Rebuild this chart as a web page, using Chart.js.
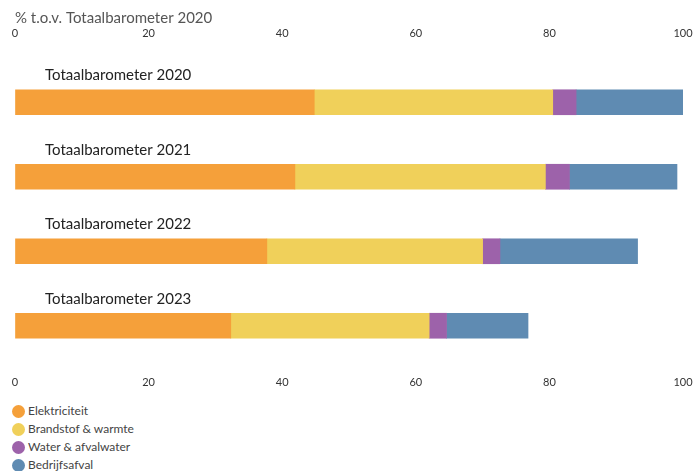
<!DOCTYPE html>
<html>
<head>
<meta charset="utf-8">
<script src="https://cdn.jsdelivr.net/npm/chart.js@4"></script>
<style>
  body { margin: 0; background: #fff; font-family: Lato, sans-serif; }
  #wrap { position: relative; width: 693px; height: 400px; }
  #legend { margin: 2px 0 0 0; padding: 0 0 0 12px; list-style: none; }
  #legend li { height: 18px; line-height: 18px; font-size: 12px; color: #444; display: flex; align-items: center; }
  #legend span.dot { width: 13px; height: 13px; border-radius: 50%; display: inline-block; margin-right: 3px; }
</style>
</head>
<body>
<div id="wrap"><canvas id="chart"></canvas></div>
<ul id="legend"></ul>
<script>
const categories = ["Totaalbarometer 2020", "Totaalbarometer 2021", "Totaalbarometer 2022", "Totaalbarometer 2023"];
const seriesNames = ["Elektriciteit", "Brandstof & warmte", "Water & afvalwater", "Bedrijfsafval"];
const elektriciteit = [44.8, 41.9, 37.7, 32.3];
const brandstof = [35.7, 37.5, 32.3, 29.7];
const water = [3.5, 3.6, 2.6, 2.6];
const afval = [16.1, 16.1, 20.6, 12.2];
const tickValues = [0, 20, 40, 60, 80, 100];
const axisTitle = "% t.o.v. Totaalbarometer 2020";

const colors = ["#F5A03A", "#F0D05A", "#9D62AA", "#5F8BB2"];
const values = [elektriciteit, brandstof, water, afval];
const fontFamily = "Lato, sans-serif";

// category names sit above each bar
const categoryLabels = {
  id: "categoryLabels",
  afterDatasetsDraw(chart) {
    const ctx = chart.ctx;
    const yScale = chart.scales.y;
    ctx.save();
    ctx.font = "15px " + fontFamily;
    ctx.fillStyle = "#222";
    ctx.textBaseline = "middle";
    ctx.textAlign = "left";
    categories.forEach((c, i) => {
      const y = yScale.getPixelForValue(i);
      ctx.fillText(c, 45, y - 27);
    });
    ctx.restore();
  },
};

// shared setup for the top and bottom value axes
const valueAxis = (position, tickLength, height) => ({
  position: position,
  min: 0,
  max: 100,
  border: { display: false },
  grid: {
    display: true,
    drawOnChartArea: false,
    color: "transparent",
    drawTicks: true,
    tickLength: tickLength,
  },
  afterBuildTicks: (axis) => { axis.ticks = tickValues.map((v) => ({ value: v })); },
  afterFit: (axis) => { axis.height = height; },
  ticks: {
    color: "#333",
    padding: 0,
    font: { size: 11, family: fontFamily },
    autoSkip: false,
    maxRotation: 0,
  },
});

const bottomAxis = valueAxis("bottom", 13, 26);
bottomAxis.stacked = true;

new Chart(document.getElementById("chart"), {
  type: "bar",
  data: {
    labels: categories,
    datasets: seriesNames.map((name, i) => ({
      label: name,
      data: values[i],
      backgroundColor: colors[i],
      borderWidth: 0,
      barThickness: 25,
      xAxisID: "x",
    })),
  },
  options: {
    indexAxis: "y",
    responsive: true,
    maintainAspectRatio: false,
    animation: false,
    layout: { padding: { top: 9, left: 15, right: 10, bottom: 11 } },
    plugins: {
      legend: { display: false },
      tooltip: { enabled: false },
      title: {
        display: true,
        text: axisTitle,
        align: "start",
        color: "#555",
        padding: { top: 0, bottom: 0 },
        font: { size: 15, weight: "normal", family: fontFamily, lineHeight: 1.2 },
      },
    },
    scales: {
      x: bottomAxis,
      x2: valueAxis("top", 25, 38),
      y: {
        stacked: true,
        display: false,
      },
    },
  },
  plugins: [categoryLabels],
});

const legend = document.getElementById("legend");
seriesNames.forEach((name, i) => {
  const li = document.createElement("li");
  const dot = document.createElement("span");
  dot.className = "dot";
  dot.style.background = colors[i];
  li.appendChild(dot);
  li.appendChild(document.createTextNode(name));
  legend.appendChild(li);
});
</script>
</body>
</html>
